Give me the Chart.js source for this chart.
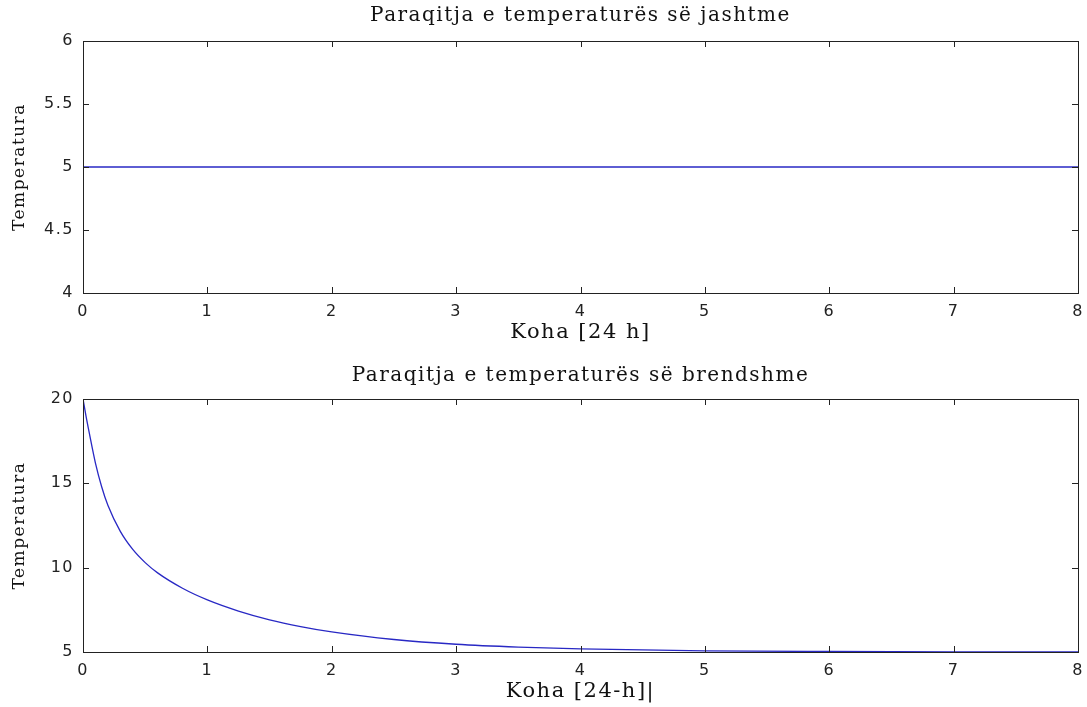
<!DOCTYPE html>
<html>
<head>
<meta charset="utf-8">
<script src="https://cdn.jsdelivr.net/npm/chart.js@4/dist/chart.umd.min.js"></script>
<style>
  body { margin: 0; background: #fff; width: 1087px; height: 707px; overflow: hidden; }
  canvas { position: absolute; left: 0; }
</style>
</head>
<body>
<canvas id="outside" width="1087" height="350" style="top:0"></canvas>
<canvas id="inside" width="1087" height="357" style="top:350px"></canvas>
<script>
// koha (ditë) dhe temperaturat e lexuara nga grafiku
const outsideHours = [0, 8]
const outsideTemp = [5, 5]

const insideHours = [0, 0.025, 0.05, 0.1, 0.15, 0.2, 0.3, 0.4, 0.5, 0.6, 0.8, 1, 1.25, 1.5, 1.75, 2, 2.5, 3, 3.5, 4, 5, 6, 7, 8]
const insideTemp = [20, 18.95, 18.0, 16.2, 14.8, 13.7, 12.15, 11.08, 10.3, 9.69, 8.78, 8.09, 7.43, 6.91, 6.51, 6.19, 5.74, 5.46, 5.29, 5.18, 5.07, 5.03, 5.01, 5.0]

const xRange = [0, 8]
const outsideRange = [4, 6]
const insideRange = [5, 20]

const serif = "'DejaVu Serif', 'Liberation Serif', serif"
const sans = "'DejaVu Sans', 'Liberation Sans', sans-serif"

// MATLAB style: full box with ticks pointing inward
const innerTicks = {
  id: "innerTicks",
  afterDatasetsDraw(chart) {
    const { ctx, chartArea: a, scales: { x, y } } = chart
    const len = 6
    ctx.save()
    ctx.strokeStyle = "#222"
    ctx.lineWidth = 1
    ctx.strokeRect(Math.round(a.left) + 0.5, Math.round(a.top) + 0.5, Math.round(a.width), Math.round(a.height))
    ctx.beginPath()
    x.ticks.forEach(t => {
      const px = Math.round(x.getPixelForValue(t.value)) + 0.5
      ctx.moveTo(px, a.bottom); ctx.lineTo(px, a.bottom - len)
      ctx.moveTo(px, a.top); ctx.lineTo(px, a.top + len)
    })
    y.ticks.forEach(t => {
      const py = Math.round(y.getPixelForValue(t.value)) + 0.5
      ctx.moveTo(a.left, py); ctx.lineTo(a.left + len, py)
      ctx.moveTo(a.right, py); ctx.lineTo(a.right - len, py)
    })
    ctx.stroke()
    ctx.restore()
  }
}

// the picture is stretched sideways, so open the letters up a little
const spacing = {
  id: "spacing",
  beforeLayout(chart) { chart.ctx.letterSpacing = "1.5px" },
  beforeDraw(chart) { chart.ctx.letterSpacing = "1.5px" }
}

function makeChart(id, opts) {
  return new Chart(document.getElementById(id), {
    type: "line",
    data: {
      datasets: [{
        data: opts.xs.map((h, i) => ({ x: h, y: opts.ys[i] })),
        borderColor: "#2828c4",
        borderWidth: 1.3,
        pointRadius: 0,
        cubicInterpolationMode: "monotone",
        fill: false
      }]
    },
    options: {
      responsive: false,
      animation: false,
      layout: { padding: { left: 0, right: 9, top: 0, bottom: 0 } },
      plugins: {
        legend: { display: false },
        tooltip: { enabled: false }
      },
      scales: {
        x: {
          type: "linear",
          min: xRange[0],
          max: xRange[1],
          grid: { display: false },
          border: { display: false },
          ticks: { stepSize: 1, color: "#222", padding: 1, font: { family: sans, size: 16 } },
          title: {
            display: true,
            text: opts.xTitle,
            color: "#111",
            font: { family: serif, size: 21 },
            padding: { top: 0, bottom: opts.xTitleBottom }
          },
          afterFit(scale) { scale.height = opts.xHeight }
        },
        // top axis only carries the plot title, centred over the plot area
        top: {
          type: "linear",
          position: "top",
          min: xRange[0],
          max: xRange[1],
          grid: { display: false },
          border: { display: false },
          ticks: { display: false },
          title: {
            display: true,
            text: opts.title,
            color: "#111",
            font: { family: serif, size: 20 },
            padding: { top: opts.titleTop, bottom: 0 }
          },
          afterFit(scale) { scale.height = opts.topHeight }
        },
        y: {
          min: opts.yRange[0],
          max: opts.yRange[1],
          grid: { display: false },
          border: { display: false },
          ticks: {
            stepSize: opts.yStep,
            color: "#222",
            padding: 1,
            font: { family: sans, size: 16 },
            callback: v => String(v)
          },
          title: {
            display: true,
            text: "Temperatura",
            color: "#111",
            font: { family: serif, size: 17 },
            padding: { top: 9, bottom: 0 }
          },
          afterFit(scale) { scale.width = 83 }
        }
      }
    },
    plugins: [innerTicks, spacing]
  })
}

makeChart("outside", {
  xs: outsideHours,
  ys: outsideTemp,
  title: "Paraqitja e temperaturës së jashtme",
  titleTop: 4,
  topHeight: 41,
  xTitle: "Koha [24 h]",
  xTitleBottom: 5,
  xHeight: 57,
  yRange: outsideRange,
  yStep: 0.5
})

makeChart("inside", {
  xs: insideHours,
  ys: insideTemp,
  title: "Paraqitja e temperaturës së brendshme",
  titleTop: 14,
  topHeight: 49,
  xTitle: "Koha [24-h]|",
  xTitleBottom: 3,
  xHeight: 55,
  yRange: insideRange,
  yStep: 5
})
</script>
</body>
</html>
